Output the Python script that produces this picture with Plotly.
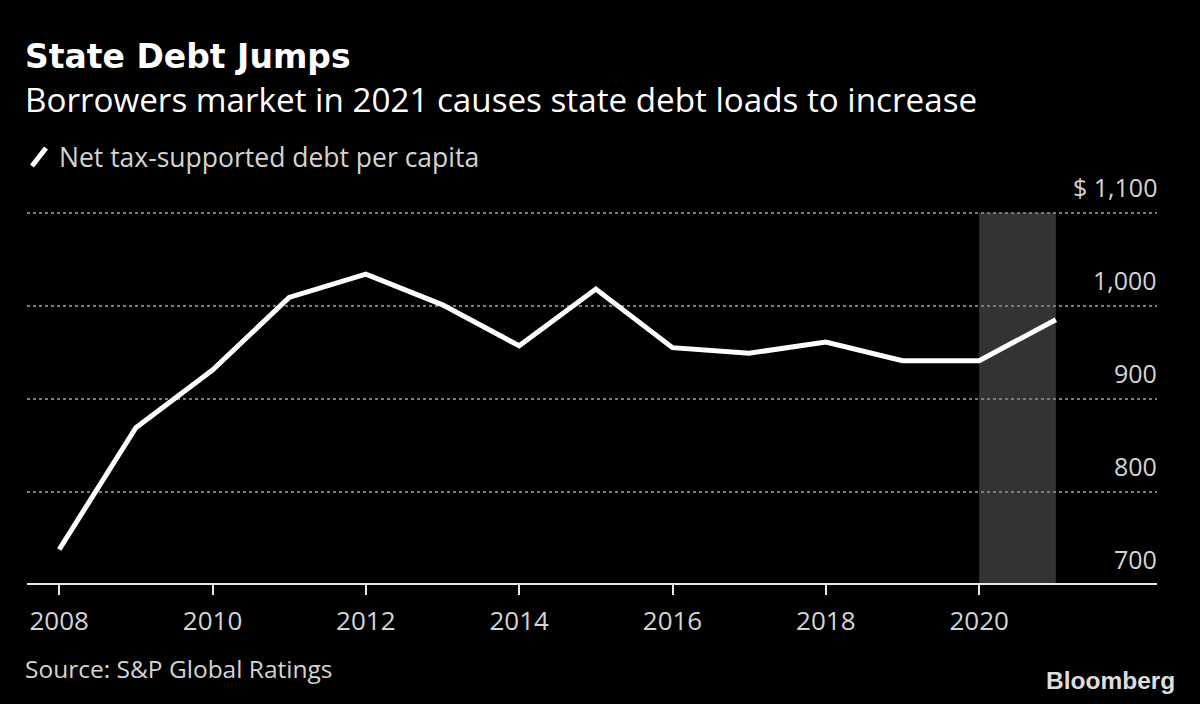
import plotly.graph_objects as go

years = [2008, 2009, 2010, 2011, 2012, 2013, 2014, 2015, 2016, 2017, 2018, 2019, 2020, 2021]
debt_per_capita = [738, 869, 931, 1009, 1034, 1001, 957, 1018, 955, 949, 961, 941, 941, 985]
series_name = "Net tax-supported debt per capita"
y_ticks = [700, 800, 900, 1000, 1100]
y_tick_labels = ["700", "800", "900", "1,000", "$ 1,100"]
x_ticks = [2008, 2010, 2012, 2014, 2016, 2018, 2020]
highlight_span = [2020, 2021]

FONT = "Open Sans"
LABEL = "#d4d4d4"
W, H = 1200, 704
ML, MR, MT, MB = 27, 43, 210, 121
Y_RANGE = [702, 1103]

fig = go.Figure()
fig.add_trace(go.Scatter(
    x=years, y=debt_per_capita, mode="lines", name=series_name,
    line=dict(color="white", width=5), showlegend=False,
))

fig.add_shape(type="rect", xref="x", yref="y",
              x0=highlight_span[0], x1=highlight_span[1], y0=Y_RANGE[0], y1=y_ticks[-1],
              fillcolor="rgba(255,255,255,0.2)", line_width=0, layer="below")

for v, lab in zip(y_ticks, y_tick_labels):
    yp = (v - Y_RANGE[0]) / (Y_RANGE[1] - Y_RANGE[0])
    fig.add_annotation(x=1, xref="paper", y=yp, yref="paper", text=lab, showarrow=False,
                       xanchor="right", yanchor="bottom", yshift=7, xshift=2,
                       font=dict(family=FONT, size=25, color=LABEL))

fig.update_layout(
    width=W, height=H,
    paper_bgcolor="black", plot_bgcolor="black",
    margin=dict(l=ML, r=MR, t=MT, b=MB),
    font=dict(family=FONT, color=LABEL),
    xaxis=dict(range=[2007.58, 2022.32], tickvals=x_ticks, showgrid=False, zeroline=False,
               showline=True, linecolor="#e6e6e6", linewidth=2,
               ticks="outside", ticklen=10, tickwidth=2, tickcolor="#e6e6e6",
               ticklabelstandoff=4,
               tickfont=dict(family=FONT, size=26, color=LABEL)),
    yaxis=dict(range=Y_RANGE, tickvals=y_ticks[1:], showticklabels=False,
               showgrid=True, gridcolor="#7a7a7a", griddash="dot", gridwidth=1.5, zeroline=False),
)

def px2paper(px, py):
    return (px - ML) / (W - ML - MR), (H - MB - py) / (H - MT - MB)

def ptxt(px, py, text, size, color, bold=False, xanchor="left", family=FONT):
    xp, yp = px2paper(px, py)
    fig.add_annotation(x=xp, y=yp, xref="paper", yref="paper",
                       text=f"<b>{text}</b>" if bold else text, showarrow=False,
                       xanchor=xanchor, yanchor="middle", borderpad=0, align="left",
                       font=dict(family=family, size=size, color=color))

ptxt(24, 57, "State Debt Jumps", 33, "white", bold=True, family="DejaVu Sans")
ptxt(24, 99.5, "Borrowers market in 2021 causes state debt loads to increase", 33.2, "white")
ptxt(58, 157, series_name, 26.5, LABEL)
ptxt(24, 668, "Source: S&P Global Ratings", 24.5, LABEL)
ptxt(1176, 680, "Bloomberg", 24.5, "#dddddd", bold=True, xanchor="right", family="Liberation Sans")

# legend glyph
x0, y0 = px2paper(32, 166)
x1, y1 = px2paper(46, 148)
fig.add_shape(type="line", xref="paper", yref="paper", x0=x0, y0=y0, x1=x1, y1=y1,
              line=dict(color="white", width=5))

fig.write_html("out.html", config={"displayModeBar": False},
               post_script="document.body.style.margin='0';")
